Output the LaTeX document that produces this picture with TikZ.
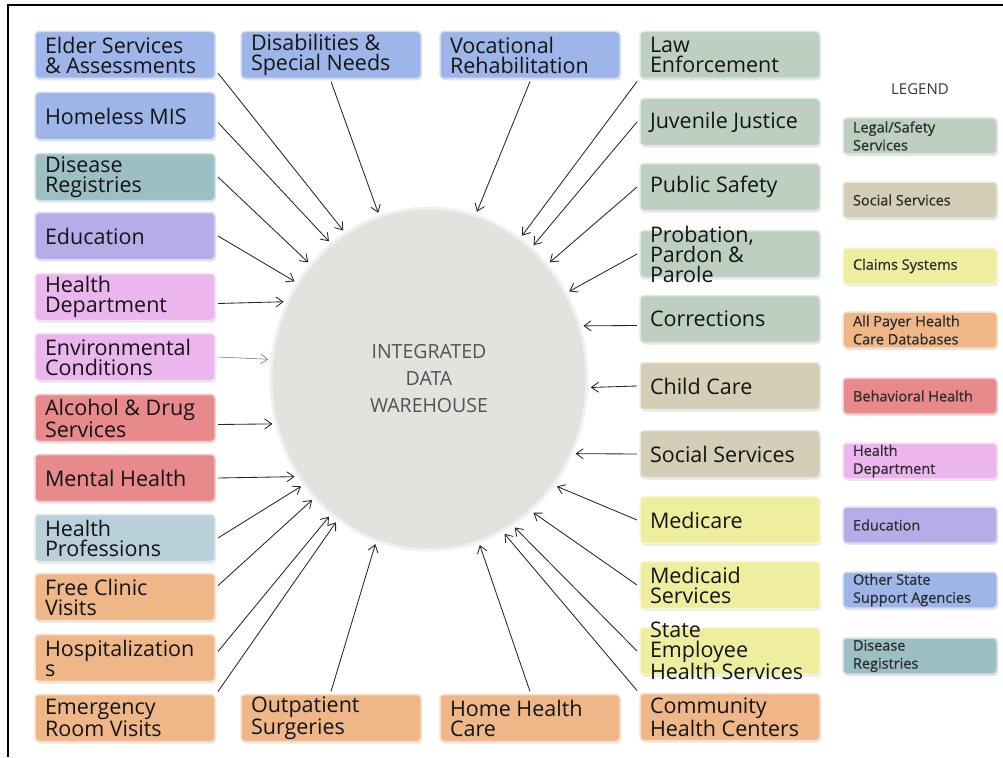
\documentclass[tikz,border=0pt]{standalone}
\usepackage{fontspec}
\setmainfont{Open Sans}
\usetikzlibrary{arrows.meta,shapes.geometric,shadows}
\definecolor{blu}{HTML}{9DB5E8}
\definecolor{dis}{HTML}{9BBFC3}
\definecolor{edu}{HTML}{B4ADE8}
\definecolor{hdp}{HTML}{EBB5EE}
\definecolor{beh}{HTML}{E8898B}
\definecolor{hpr}{HTML}{B9CFD9}
\definecolor{apc}{HTML}{EFB788}
\definecolor{lgl}{HTML}{BDCFC0}
\definecolor{soc}{HTML}{D3CEB5}
\definecolor{clm}{HTML}{EEEE9E}
\definecolor{idwfill}{HTML}{E2E2DF}
\definecolor{ink}{HTML}{141414}
\newcommand{\srcbox}[1]{\parbox[c][27pt][c]{160pt}{\raggedright #1}}
\newcommand{\keybox}[1]{\parbox[c][28pt][c]{134pt}{\raggedright #1}}
\tikzset{
  src/.style={rectangle,rounded corners=4pt,inner sep=10pt,outer sep=3pt,text=ink,
    font=\fontsize{21.5}{20}\selectfont,draw=#1!45!white,fill=#1,line width=1.5pt,
    drop shadow={shadow xshift=1pt,shadow yshift=-2pt,opacity=.2}},
  key/.style={rectangle,rounded corners=4pt,inner xsep=10pt,inner ysep=4pt,text=ink!90,
    font=\fontsize{14.5}{18}\selectfont\addfontfeatures{FakeBold=0.6},draw=#1!45!white,fill=#1,line width=1.5pt,
    drop shadow={shadow xshift=1pt,shadow yshift=-2pt,opacity=.2}},
  feed/.style={draw=black!85,line width=.85pt,-{Straight Barb[length=7pt,width=10pt]}},
}
\begin{document}
\begin{tikzpicture}[x=1pt,y=-1pt]
\useasboundingbox (0,0) rectangle (1003,757);
\draw [line width=2pt] (8,757) -- (8,5) -- (1003,5);
%%
  \node (IDW) at (429,379) [ellipse,minimum width=316pt,minimum height=342pt,inner sep=0pt,outer sep=4pt,
    fill=idwfill,draw=black!6,line width=3pt,align=center,text=black!68,font=\fontsize{19.5}{27}\selectfont]
    {INTEGRATED\\DATA\\WAREHOUSE};
%% left column
  \node (Elder) at (125,55) [src=blu] {\srcbox{Elder Services\\\& Assessments}};
  \node (Homeless) at (125,116) [src=blu] {\srcbox{Homeless MIS}};
  \node (DisReg) at (125,177) [src=dis] {\srcbox{Disease\\Registries}};
  \node (Educ) at (125,236) [src=edu] {\srcbox{Education}};
  \node (HealthDept) at (125,297) [src=hdp] {\srcbox{Health\\Department}};
  \node (EnvCond) at (125,357) [src=hdp] {\srcbox{Environmental\\Conditions}};
  \node (AlcDrug) at (125,418) [src=beh] {\srcbox{Alcohol \& Drug\\Services}};
  \node (MentalH) at (125,478) [src=beh] {\srcbox{Mental Health}};
  \node (HealthProf) at (125,538) [src=hpr] {\srcbox{Health\\Professions}};
  \node (FreeClinic) at (125,597) [src=apc] {\srcbox{Free Clinic\\Visits}};
  \node (Hosp) at (125,658) [src=apc] {\srcbox{Hospitalization\\s}};
  \node (ERVisits) at (125,718) [src=apc] {\srcbox{Emergency\\Room Visits}};
%% top and bottom rows
  \node (Disab) at (331,55) [src=blu] {\srcbox{Disabilities \&\\Special Needs}};
  \node (VocRehab) at (530,55) [src=blu] {\srcbox{Vocational\\Rehabilitation}};
  \node (Outpat) at (331,718) [src=apc] {\srcbox{Outpatient\\Surgeries}};
  \node (HomeHC) at (530,718) [src=apc] {\srcbox{Home Health\\Care}};
%% right column
  \node (LawEnf) at (730,55) [src=lgl] {\srcbox{Law\\Enforcement}};
  \node (Juvenile) at (730,122) [src=lgl] {\srcbox{Juvenile Justice}};
  \node (PubSafety) at (730,187) [src=lgl] {\srcbox{Public Safety}};
  \node (Probation) at (730,254) [src=lgl] {\srcbox{Probation,\\Pardon \&\\Parole}};
  \node (Corr) at (730,319) [src=lgl] {\srcbox{Corrections}};
  \node (ChildCare) at (730,386) [src=soc] {\srcbox{Child Care}};
  \node (SocServ) at (730,454) [src=soc] {\srcbox{Social Services}};
  \node (Medicare) at (730,520) [src=clm] {\srcbox{Medicare}};
  \node (Medicaid) at (730,585) [src=clm] {\srcbox{Medicaid\\Services}};
  \node (StateEmp) at (730,651) [src=clm] {\srcbox{State\\Employee\\Health Services}};
  \node (CHC) at (730,717) [src=apc] {\srcbox{Community\\Health Centers}};
%% legend
  \node (LegTitle) at (920,89) [text=ink!85,font=\fontsize{15}{16}\selectfont] {LEGEND};
  \node (KeyLegal) at (920,136) [key=lgl] {\keybox{Legal/Safety\\Services}};
  \node (KeySocial) at (920,200) [key=soc] {\keybox{Social Services}};
  \node (KeyClaims) at (920,266) [key=clm] {\keybox{Claims Systems}};
  \node (KeyPayer) at (920,330) [key=apc] {\keybox{All Payer Health\\Care Databases}};
  \node (KeyBehav) at (920,396) [key=beh] {\keybox{Behavioral Health}};
  \node (KeyHealth) at (920,461) [key=hdp] {\keybox{Health\\Department}};
  \node (KeyEduc) at (920,525) [key=edu] {\keybox{Education}};
  \node (KeyOther) at (920,590) [key=blu] {\keybox{Other State\\Support Agencies}};
  \node (KeyDisease) at (920,656) [key=dis] {\keybox{Disease\\Registries}};
%% feeds into the warehouse
  \draw [feed] (Elder.-11) -- (IDW.120);
  \draw [feed] (Homeless.-4) -- (IDW.126);
  \draw [feed] (DisReg.east) -- (IDW.136);
  \draw [feed] (Educ.east) -- (IDW.144);
  \draw [feed] (HealthDept.-4) -- (IDW.152);
  \draw [feed,line width=.5pt,draw=black!60] (EnvCond.east) -- (IDW.173);
  \draw [feed] (AlcDrug.-4) -- (IDW.196);
  \draw [feed] (MentalH.east) -- (IDW.216);
  \draw [feed] (HealthProf.east) -- (IDW.220);
  \draw [feed] (FreeClinic.7) -- (IDW.226);
  \draw [feed] (Hosp.4) -- (IDW.234);
  \draw [feed] (ERVisits.north east) -- (IDW.237);
  \draw [feed] (Outpat.north) -- (IDW.252);
  \draw [feed] (HomeHC.north) -- (IDW.287);
  \draw [feed] (CHC.north west) -- (IDW.296);
  \draw [feed] (StateEmp.west) -- (IDW.300);
  \draw [feed] (Medicaid.west) -- (IDW.308);
  \draw [feed] (Medicare.west) -- (IDW.320);
  \draw [feed] (SocServ.west) -- (IDW.333);
  \draw [feed] (ChildCare.west) -- (IDW.357);
  \draw [feed] (Corr.184) -- (IDW.19);
  \draw [feed] (Probation.west) -- (IDW.32);
  \draw [feed] (PubSafety.west) -- (IDW.44);
  \draw [feed] (Juvenile.west) -- (IDW.52);
  \draw [feed] (LawEnf.south west) -- (IDW.57);
  \draw [feed] (VocRehab.south) -- (IDW.74);
  \draw [feed] (Disab.south) -- (IDW.107);
%
\end{tikzpicture}
\end{document}
